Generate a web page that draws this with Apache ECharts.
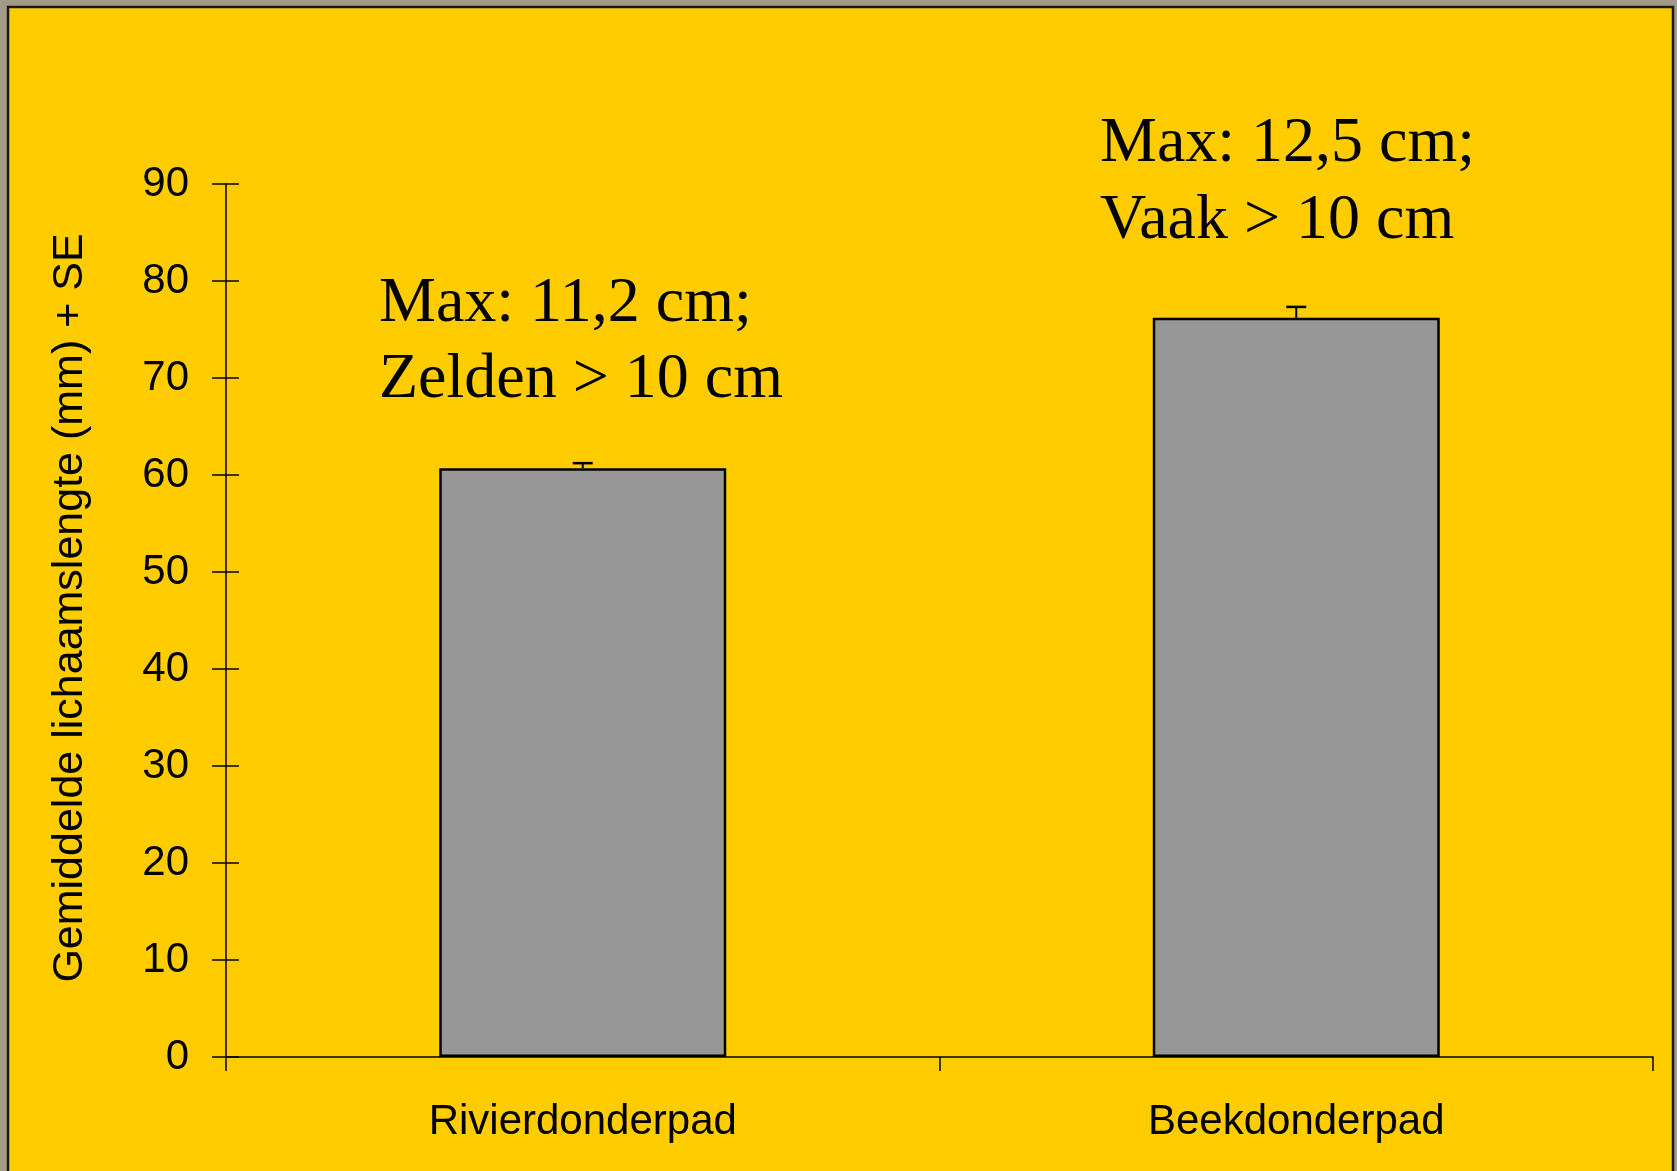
<!DOCTYPE html>
<html>
<head>
<meta charset="utf-8">
<script src="https://cdn.jsdelivr.net/npm/echarts@6/dist/echarts.min.js"></script>
<style>
html,body{margin:0;padding:0;background:#a39a88;}
#chart{width:1677px;height:1171px;}
</style>
</head>
<body>
<div id="chart"></div>
<script>
// ---- data ----
const categories = ['Rivierdonderpad', 'Beekdonderpad'];
const meanLength = [60.7, 76.2];
const stdError = [0.52, 1.13];
const yTicks = { min: 0, max: 90, interval: 10 };
const yAxisTitle = 'Gemiddelde lichaamslengte (mm) + SE';
const noteRivier = ['Max: 11,2 cm;', 'Zelden > 10 cm'];
const noteBeek = ['Max: 12,5 cm;', 'Vaak > 10 cm'];

const errData = categories.map((c, i) => [i, meanLength[i], stdError[i]]);

const sans = '"Liberation Sans", Arial, sans-serif';
const serif = '"Liberation Serif", "Times New Roman", serif';

const chart = echarts.init(document.getElementById('chart'));
chart.setOption({
  backgroundColor: '#a39a88',
  animation: false,
  grid: { left: 226, right: 24, top: 184, bottom: 114, containLabel: false },
  graphic: [
    { type: 'rect', z: -100, shape: { x: 8, y: 7, width: 1665, height: 1180 },
      style: { fill: '#FFCC00', stroke: '#1a1a1a', lineWidth: 2.5 } },
    { type: 'text', z: 100, x: 70, y: 608, rotation: Math.PI / 2,
      style: { text: yAxisTitle, font: '43px ' + sans, fill: '#000', align: 'center', verticalAlign: 'middle' } },
    { type: 'text', z: 100, x: 379, y: 304, style: { text: noteRivier[0], font: '64px ' + serif, fill: '#000', verticalAlign: 'middle' } },
    { type: 'text', z: 100, x: 379, y: 380, style: { text: noteRivier[1], font: '64px ' + serif, fill: '#000', verticalAlign: 'middle' } },
    { type: 'text', z: 100, x: 1100, y: 144, style: { text: noteBeek[0], font: '64px ' + serif, fill: '#000', verticalAlign: 'middle' } },
    { type: 'text', z: 100, x: 1100, y: 221, style: { text: noteBeek[1], font: '64px ' + serif, fill: '#000', verticalAlign: 'middle' } }
  ],
  xAxis: {
    type: 'category',
    data: categories,
    axisLine: { lineStyle: { color: '#000', width: 1.5 } },
    axisTick: { show: true, length: 14, interval: 0, lineStyle: { color: '#000', width: 1.5 } },
    axisLabel: { color: '#000', fontSize: 42, fontFamily: sans, margin: 44, interval: 0 },
    splitLine: { show: false }
  },
  yAxis: [
    {
      type: 'value', min: yTicks.min, max: yTicks.max, interval: yTicks.interval,
      axisLine: { show: true, lineStyle: { color: '#000', width: 1.5 } },
      axisTick: { show: true, length: 14, lineStyle: { color: '#000', width: 1.5 } },
      axisLabel: { color: '#000', fontSize: 42, fontFamily: sans, margin: 37 },
      splitLine: { show: false }
    },
    {
      type: 'value', min: yTicks.min, max: yTicks.max, interval: yTicks.interval,
      position: 'left',
      axisLine: { show: false },
      axisTick: { show: true, inside: true, length: 13, lineStyle: { color: '#000', width: 1.5 } },
      axisLabel: { show: false },
      splitLine: { show: false }
    }
  ],
  series: [
    {
      type: 'bar',
      data: meanLength,
      barWidth: 287,
      itemStyle: { color: '#979797', borderColor: '#000', borderWidth: 2.5 },
      z: 2
    },
    {
      type: 'custom',
      data: errData,
      z: 3,
      renderItem: function (params, api) {
        const x = api.value(0), v = api.value(1), se = api.value(2);
        const base = api.coord([x, v]);
        const top = api.coord([x, v + se]);
        const hw = 10;
        return {
          type: 'group',
          children: [
            { type: 'line', shape: { x1: base[0], y1: base[1], x2: top[0], y2: top[1] }, style: { stroke: '#000', lineWidth: 2 } },
            { type: 'line', shape: { x1: top[0] - hw, y1: top[1], x2: top[0] + hw, y2: top[1] }, style: { stroke: '#000', lineWidth: 2.5 } }
          ]
        };
      }
    }
  ]
});
</script>
</body>
</html>
